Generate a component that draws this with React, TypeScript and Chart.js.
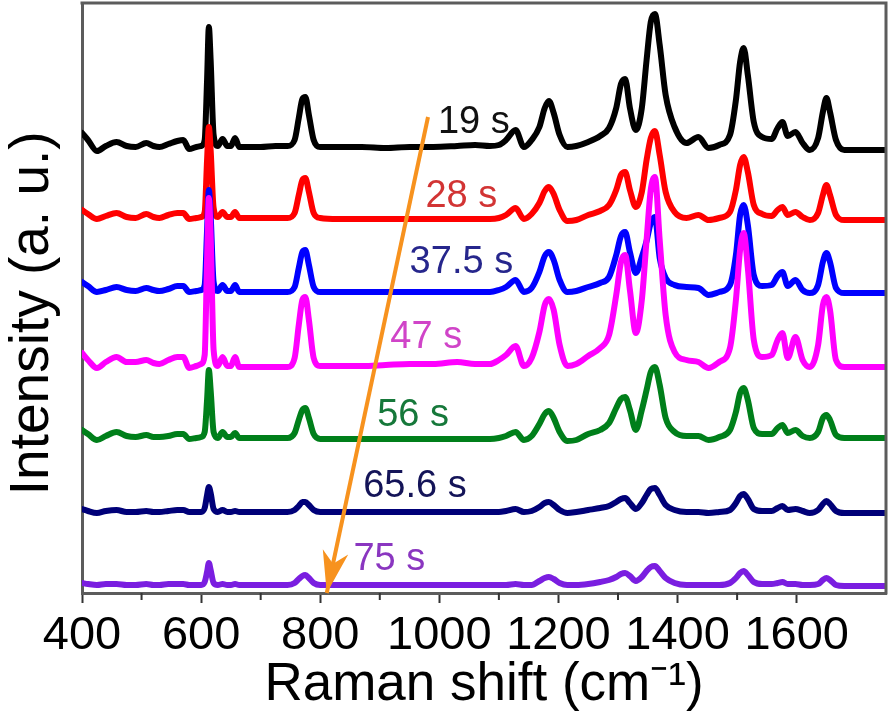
import React, { useEffect, useRef } from 'react';
import { Chart, registerables } from 'chart.js';

Chart.register(...registerables);

// Raman shift grid (cm-1), shared by all spectra
const WAVENUMBERS = [400,410,425,440,458,475,490,508,520,530,545,560,570,580,592,600,606,610,613,616,621,628,636,644,650,657,664,675,700,725,745,757,764,770,775,781,789,800,830,870,910,950,990,1030,1060,1085,1100,1112,1128,1142,1155,1168,1177,1184,1192,1202,1215,1230,1250,1270,1285,1297,1305,1312,1320,1330,1340,1348,1355,1362,1370,1380,1395,1415,1435,1452,1470,1488,1498,1505,1511,1518,1528,1542,1558,1568,1576,1585,1598,1610,1622,1636,1644,1650,1656,1666,1680,1710,1750];

// Offset intensities (a. u.) for each acquisition time
const S19 = [460,453,442,447,451,447,446,450,447,446,449,452,453,444,446,447,453,513,566,533,458,447,454,447,447,455,446,446,446,447,447,453,475,494,496,478,453,446,446,446,445,446,446,447,448,447,448,453,463,446,453,466,485,492,480,458,446,447,451,457,465,485,509,514,485,463,485,533,571,579,548,498,466,450,456,445,448,458,493,531,545,518,471,456,454,465,471,457,461,450,443,455,481,495,481,453,443,443,443];
const S28 = [383,379,374,377,380,376,375,379,376,375,378,380,380,374,375,376,381,433,466,443,385,376,381,376,376,381,375,375,375,375,375,380,398,413,415,401,380,375,374,374,374,374,374,374,374,374,375,378,385,374,379,390,402,406,399,383,372,373,378,382,388,403,418,421,403,386,401,433,455,462,438,401,381,375,378,373,375,381,403,428,436,421,388,379,377,383,386,378,381,376,373,380,398,408,398,378,373,373,373];
const S37 = [311,307,301,303,306,303,302,305,303,302,304,307,307,301,302,303,308,363,403,378,311,302,308,302,302,308,301,301,301,301,301,306,325,341,343,328,306,301,301,301,301,301,301,301,301,301,303,306,313,301,305,321,337,341,333,313,301,302,306,310,316,338,357,361,341,320,336,352,370,376,335,315,308,306,305,298,301,308,338,378,388,368,318,307,308,317,321,307,313,303,300,308,331,340,331,305,300,300,300];
const S47 = [240,233,225,231,236,231,231,233,230,229,233,236,236,225,227,229,238,333,395,358,243,227,236,227,227,236,226,226,226,226,226,235,268,293,296,273,235,227,227,227,228,229,229,231,229,229,233,238,247,227,235,261,288,294,283,248,227,229,237,245,258,298,331,338,303,260,293,353,403,416,353,278,241,233,231,225,231,245,293,343,360,325,253,236,238,253,260,235,256,233,226,248,288,296,283,233,226,226,226];
const S56 = [163,159,153,157,161,157,156,158,156,156,157,159,159,154,155,156,161,193,223,203,161,155,161,156,156,160,155,155,155,155,155,160,173,183,185,175,159,154,154,154,154,154,154,154,154,154,155,157,161,153,157,169,179,182,175,161,152,153,159,163,170,185,194,196,183,163,183,203,221,226,208,175,161,157,157,153,156,163,181,200,205,193,165,159,159,165,168,160,163,157,155,161,175,178,173,158,155,155,155];
const S65 = [84,82,80,82,83,81,81,82,81,81,82,83,83,81,81,81,85,98,106,100,84,81,83,81,81,82,81,81,81,81,81,83,87,91,91,88,83,81,81,81,81,81,81,81,81,81,81,82,84,81,82,86,90,91,88,83,80,81,83,85,87,91,94,95,90,84,90,98,104,105,98,88,83,81,81,80,81,83,90,97,99,94,84,82,82,85,87,83,84,82,80,83,89,92,89,82,80,80,80];
const S75 = [10,9,8,9,9,8,8,9,8,8,9,9,9,8,8,8,11,21,30,23,10,8,9,8,8,9,8,8,8,8,8,10,14,17,18,15,10,8,8,8,8,8,8,8,8,8,8,8,9,8,8,12,15,16,14,10,8,8,9,11,13,16,19,20,17,12,16,22,26,27,22,15,10,8,8,8,8,10,15,20,22,18,11,9,9,10,11,9,9,8,8,9,13,15,13,8,7,7,7];

const SERIES = [S19, S28, S37, S47, S56, S65, S75];
const SERIES_LABELS = ['19 s', '28 s', '37.5 s', '47 s', '56 s', '65.6 s', '75 s'];
const LINE_COLORS = ['#000000', '#ff0000', '#0000ff', '#ff00ff', '#007f1a', '#000078', '#7a1ee0'];
const TEXT_COLORS = ['#111111', '#d23434', '#26268c', '#d044c8', '#16783a', '#141458', '#8a36c0'];
// label anchor points in data units (cm-1, a. u.)
const LABEL_X = [1058, 1037, 1037, 978, 956, 959, 916];
const LABEL_Y = [470, 396, 330, 255, 177, 106, 33];
// arrow from start to tip, data units
const ARROW_X = [981, 811];
const ARROW_Y = [476, 0];

const X_MIN = 400;
const X_MAX = 1750;
const Y_MIN = 0;
const Y_MAX = 590;

const FONT = '"Liberation Sans", Arial, Helvetica, sans-serif';
const FRAME_COLOR = '#5c5c5c';
const TICK_COLOR = '#333333';
const ARROW_COLOR = '#f7921e';

const overlayPlugin = {
  id: 'overlay',
  afterDatasetsDraw(chart: any) {
    const { ctx, chartArea: a } = chart;
    const xs = chart.scales.x;
    const ys = chart.scales.y;
    ctx.save();
    // top and right frame
    ctx.strokeStyle = FRAME_COLOR;
    ctx.lineWidth = 3;
    ctx.beginPath();
    ctx.moveTo(a.left - 1.5, a.top);
    ctx.lineTo(a.right, a.top);
    ctx.lineTo(a.right, a.bottom + 1.5);
    ctx.stroke();
    // minor ticks
    ctx.strokeStyle = TICK_COLOR;
    ctx.lineWidth = 2;
    ctx.beginPath();
    xs.ticks.forEach((t: any) => {
      if (t.value % 200 !== 0 && t.value % 100 === 0) {
        const px = xs.getPixelForValue(t.value);
        ctx.moveTo(px, a.bottom);
        ctx.lineTo(px, a.bottom + 7);
      }
    });
    ctx.stroke();
    // arrow head
    const meta = chart.getDatasetMeta(SERIES.length);
    const p0 = meta.data[0];
    const p1 = meta.data[1];
    if (p0 && p1) {
      const ang = Math.atan2(p1.y - p0.y, p1.x - p0.x);
      const c = Math.cos(ang), s = Math.sin(ang);
      const L = 42, W = 13, N = 30;
      ctx.fillStyle = ARROW_COLOR;
      ctx.beginPath();
      ctx.moveTo(p1.x, p1.y);
      ctx.lineTo(p1.x - L * c - W * s, p1.y - L * s + W * c);
      ctx.lineTo(p1.x - N * c, p1.y - N * s);
      ctx.lineTo(p1.x - L * c + W * s, p1.y - L * s - W * c);
      ctx.closePath();
      ctx.fill();
    }
    // series labels
    ctx.font = `38px ${FONT}`;
    ctx.textAlign = 'center';
    ctx.textBaseline = 'middle';
    SERIES_LABELS.forEach((label, i) => {
      ctx.fillStyle = TEXT_COLORS[i];
      ctx.fillText(label, xs.getPixelForValue(LABEL_X[i]), ys.getPixelForValue(LABEL_Y[i]));
    });
    ctx.restore();
  },
};

export default function App() {
  const ref = useRef<HTMLCanvasElement | null>(null);

  useEffect(() => {
    if (!ref.current) return;
    const datasets: any[] = SERIES.map((vals, i) => ({
      label: SERIES_LABELS[i],
      data: WAVENUMBERS.map((w, k) => ({ x: w, y: vals[k] })),
      borderColor: LINE_COLORS[i],
      backgroundColor: LINE_COLORS[i],
      borderWidth: 6,
      pointRadius: 0,
      tension: 0.35,
      cubicInterpolationMode: 'monotone',
      borderJoinStyle: 'round',
      borderCapStyle: 'round',
      fill: false,
      order: SERIES.length - i + 1,
    }));
    datasets.push({
      label: 'arrow',
      data: ARROW_X.map((x, k) => ({ x, y: ARROW_Y[k] })),
      borderColor: ARROW_COLOR,
      borderWidth: 4,
      pointRadius: 0,
      fill: false,
      clip: false,
      order: 0,
    });

    const chart = new Chart(ref.current, {
      type: 'line',
      data: { datasets },
      plugins: [overlayPlugin],
      options: {
        animation: false,
        responsive: false,
        maintainAspectRatio: false,
        layout: { padding: { top: 3, right: 8, left: 0, bottom: 0 } },
        plugins: { legend: { display: false }, tooltip: { enabled: false } },
        scales: {
          x: {
            type: 'linear',
            min: X_MIN,
            max: X_MAX,
            ticks: {
              stepSize: 100,
              autoSkip: false,
              maxRotation: 0,
              minRotation: 0,
              padding: 5,
              color: '#000',
              font: { family: FONT, size: 47, lineHeight: 1.2 },
              callback: (v: any) => (Number(v) % 200 === 0 ? String(v) : ''),
            },
            grid: {
              drawOnChartArea: false,
              drawTicks: true,
              tickLength: 10,
              tickWidth: 2,
              tickColor: (ctx: any) =>
                ctx.tick && ctx.tick.value % 200 === 0 ? TICK_COLOR : 'rgba(0,0,0,0)',
            },
            border: { display: true, color: FRAME_COLOR, width: 3 },
            title: {
              display: true,
              text: 'Raman shift (cm\u207B\u00B9)',
              color: '#000',
              font: { family: FONT, size: 53, lineHeight: 1.1 },
              padding: { top: 0, bottom: 0 },
            },
            afterFit: (s: any) => {
              s.height = 122;
            },
          },
          y: {
            type: 'linear',
            min: Y_MIN,
            max: Y_MAX,
            ticks: { display: false },
            grid: { display: false },
            border: { display: true, color: FRAME_COLOR, width: 3 },
            title: {
              display: true,
              text: 'Intensity (a. u.)  ',
              color: '#000',
              font: { family: FONT, size: 55, lineHeight: 1.2 },
              padding: { top: 0, bottom: 0 },
            },
            afterFit: (s: any) => {
              s.width = 82;
            },
          },
        },
      } as any,
    });
    return () => chart.destroy();
  }, []);

  return (
    <div style={{ position: 'absolute', left: 0, top: 0, width: 894, height: 715, background: '#fff' }}>
      <canvas ref={ref} width={894} height={715} style={{ display: 'block', width: 894, height: 715 }} />
    </div>
  );
}
